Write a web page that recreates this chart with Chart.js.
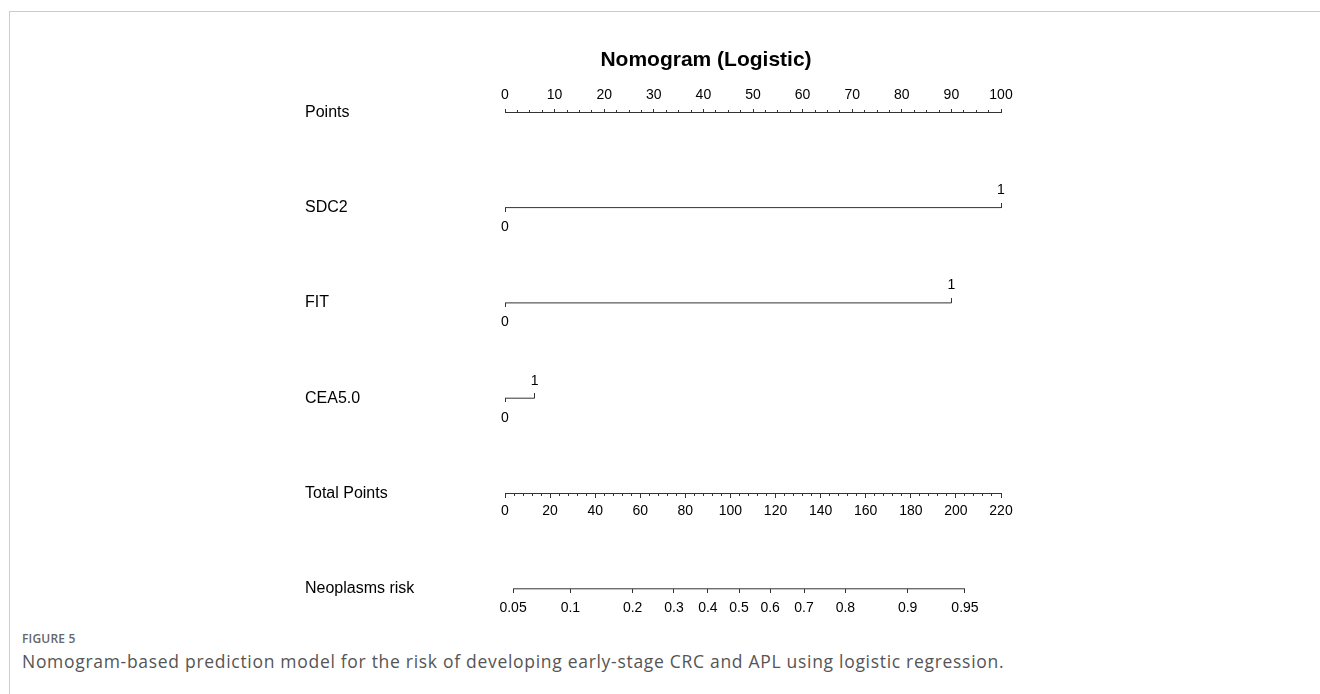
<!DOCTYPE html>
<html>
<head>
<meta charset="utf-8">
<script src="https://cdn.jsdelivr.net/npm/chart.js@4.4.0/dist/chart.umd.min.js"></script>
<style>
  html, body { margin: 0; padding: 0; background: #fff; }
  body { width: 1320px; height: 694px; position: relative; overflow: hidden; }
  #frame { position: absolute; left: 9px; top: 11px; width: 1400px; height: 800px; border: 1px solid #cccccc; box-sizing: border-box; }
  #graph { position: absolute; left: 0; top: 0; }
  #fig { position: absolute; left: 22px; top: 630px; font: 600 12px "Open Sans", sans-serif; color: #666; letter-spacing: 0.2px; }
  #caption { position: absolute; left: 22px; top: 649px; font: 17.5px "Open Sans", sans-serif; letter-spacing: 0.7px; color: #555; white-space: nowrap; }
</style>
</head>
<body>
<div id="frame"></div>
<canvas id="graph" width="1320" height="620"></canvas>
<div id="fig">FIGURE 5</div>
<div id="caption">Nomogram-based prediction model for the risk of developing early-stage CRC and APL using logistic regression.</div>
<script>
// rows of the nomogram, top to bottom
var row_labels = ['Points', 'SDC2', 'FIT', 'CEA5.0', 'Total Points', 'Neoplasms risk'];
var points_ticks = [0, 10, 20, 30, 40, 50, 60, 70, 80, 90, 100];
var predictors = ['SDC2', 'FIT', 'CEA5.0'];
var level_labels = ['0', '1'];
var predictor_points = [100, 90, 6];   // points for level "1" (level "0" = 0)
var total_ticks = [0, 20, 40, 60, 80, 100, 120, 140, 160, 180, 200, 220];
var risk_ticks = [0.05, 0.1, 0.2, 0.3, 0.4, 0.5, 0.6, 0.7, 0.8, 0.9, 0.95];
var risk_labels = ['0.05', '0.1', '0.2', '0.3', '0.4', '0.5', '0.6', '0.7', '0.8', '0.9', '0.95'];
var risk_half_points = 103.8;   // total points where risk = 0.5
var points_per_logit = 34.04;

var line_color = '#333333';
Chart.defaults.font.family = '"Liberation Sans", Arial, sans-serif';
Chart.defaults.color = '#000';

function logit(p) { return Math.log(p / (1 - p)); }
function total_to_logit(t) { return (t - risk_half_points) / points_per_logit; }

function fixed_ticks(values) {
    return function(scale) {
        scale.ticks = values.map(function(v) { return {value: v}; });
    };
}

function axis(row, min, max, values, label, tick_len, pad, show_line) {
    return {
        type: 'linear', axis: 'x', position: {y: row}, min: min, max: max, bounds: 'data',
        afterBuildTicks: fixed_ticks(values),
        grid: {drawOnChartArea: false, drawTicks: true, tickLength: tick_len, tickColor: line_color, tickWidth: 1},
        border: {display: show_line, color: line_color, width: 1},
        ticks: {
            autoSkip: false, maxRotation: 0, padding: pad, font: {size: 14},
            callback: function(v, i) { return label(v, i); }
        }
    };
}

function minor(row, min, max, step, tick_len) {
    return {
        type: 'linear', axis: 'x', position: {y: row}, min: min, max: max, bounds: 'data',
        grid: {drawOnChartArea: false, drawTicks: true, tickLength: tick_len, tickColor: line_color, tickWidth: 1},
        border: {display: false},
        ticks: {display: false, stepSize: step, autoSkip: false}
    };
}

var scales = {
    y: {
        type: 'linear', position: 'left', reverse: true, min: 0, max: row_labels.length - 1,
        afterBuildTicks: fixed_ticks(row_labels.map(function(l, i) { return i; })),
        afterFit: function(scale) { scale.width = 200; },
        grid: {display: false, drawTicks: false},
        border: {display: false},
        ticks: {
            autoSkip: false, crossAlign: 'far', padding: 0, font: {size: 16},
            callback: function(v, i) { return row_labels[i]; }
        }
    },
    // empty right-hand gutter, keeps the title centred like the original plot
    y_gutter: {
        type: 'linear', position: 'right', display: true,
        afterFit: function(scale) { scale.width = 106; },
        grid: {display: false, drawTicks: false},
        border: {display: false},
        ticks: {display: false}
    },
    pts: axis(0, 0, 100, points_ticks, function(v) { return String(v); }, -4, -21.4, true),
    pts_minor: minor(0, 0, 100, 2.5, -2),
    total: axis(4, 0, 220, total_ticks, function(v) { return String(v); }, 4, 5.6, true),
    total_minor: minor(4, 0, 220, 4, 2),
    risk: axis(5, total_to_logit(0), total_to_logit(220), risk_ticks.map(logit),
        function(v, i) { return risk_labels[i]; }, 4, 6.6, false)
};

predictors.forEach(function(name, i) {
    scales['lv0_' + i] = axis(i + 1, 0, 100, [0], function() { return level_labels[0]; }, 4, 7.3, false);
    scales['lv1_' + i] = axis(i + 1, 0, 100, [predictor_points[i]], function() { return level_labels[1]; }, -5, -20.9, false);
});

var datasets = predictors.map(function(name, i) {
    return {
        label: name, xAxisID: 'pts', yAxisID: 'y',
        data: [{x: 0, y: i + 1}, {x: predictor_points[i], y: i + 1}]
    };
});
datasets.push({
    label: 'Neoplasms risk', xAxisID: 'risk', yAxisID: 'y',
    data: [{x: logit(risk_ticks[0]), y: 5}, {x: logit(risk_ticks[risk_ticks.length - 1]), y: 5}]
});
datasets.forEach(function(d) {
    d.showLine = true;
    d.borderColor = line_color;
    d.borderWidth = 1;
    d.pointRadius = 0;
    d.fill = false;
    d.clip = false;
});

var chart_context = document.getElementById('graph').getContext('2d');
var chart = new Chart(chart_context, {
    type: 'scatter',
    data: {datasets: datasets},
    options: {
        responsive: false,
        animation: false,
        layout: {padding: {left: 305, right: 213, top: 0, bottom: 31.2}},
        scales: scales,
        plugins: {
            legend: {display: false},
            tooltip: {enabled: false},
            title: {
                display: true,
                text: 'Nomogram (Logistic)',
                color: '#000',
                font: {size: 21, weight: 'bold'},
                padding: {top: 47.4, bottom: 39.7}
            }
        }
    }
});
</script>
</body>
</html>
